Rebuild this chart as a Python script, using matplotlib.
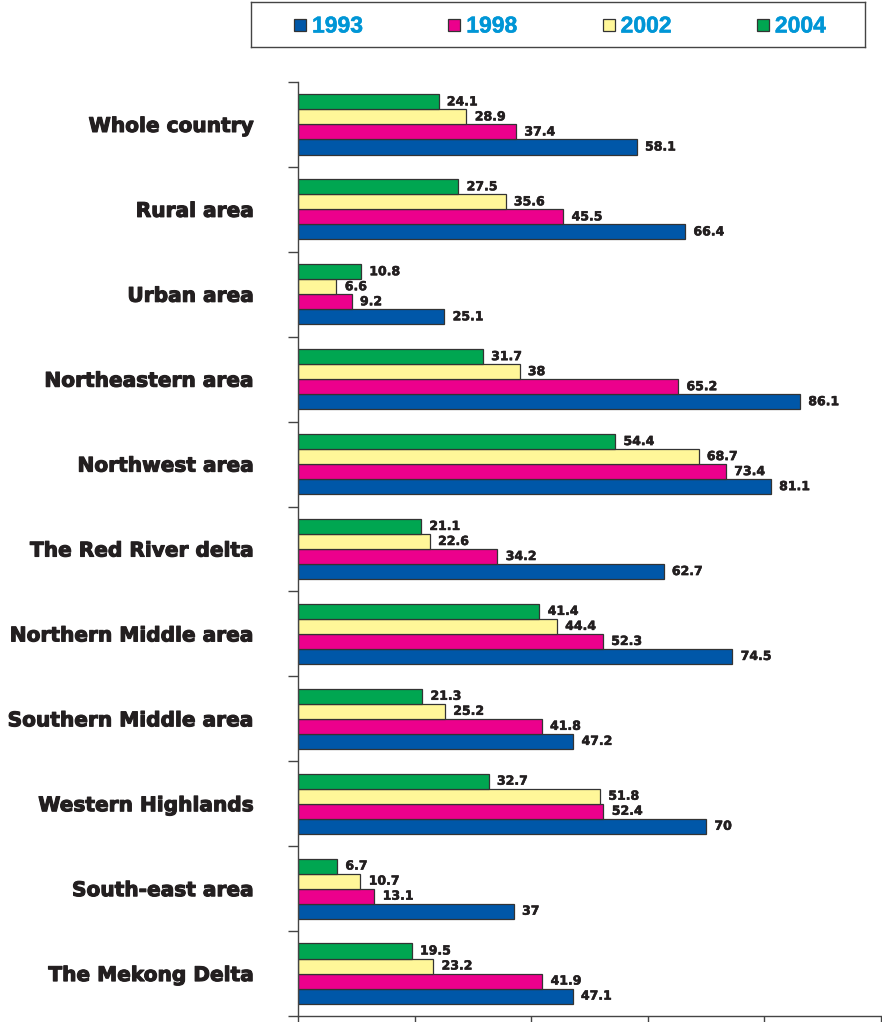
import matplotlib.pyplot as plt
import matplotlib.patheffects as pe
from matplotlib.patches import Rectangle
from matplotlib.ticker import MultipleLocator
import numpy as np

# Dados
regioes = ["Whole country", "Rural area", "Urban area", "Northeastern area",
           "Northwest area", "The Red River delta", "Northern Middle area",
           "Southern Middle area", "Western Highlands", "South-east area",
           "The Mekong Delta"]
anos = ["1993", "1998", "2002", "2004"]
v1993 = [58.1, 66.4, 25.1, 86.1, 81.1, 62.7, 74.5, 47.2, 70, 37, 47.1]
v1998 = [37.4, 45.5, 9.2, 65.2, 73.4, 34.2, 52.3, 41.8, 52.4, 13.1, 41.9]
v2002 = [28.9, 35.6, 6.6, 38, 68.7, 22.6, 44.4, 25.2, 51.8, 10.7, 23.2]
v2004 = [24.1, 27.5, 10.8, 31.7, 54.4, 21.1, 41.4, 21.3, 32.7, 6.7, 19.5]
series = [v1993, v1998, v2002, v2004]
cores = ["#0057a8", "#ec008c", "#fff799", "#00a651"]

# Figura e eixo principal
fig = plt.figure(figsize=(8.82, 10.22), dpi=100)
ax = fig.add_axes([298/882, 6/1022, 583/882, 934/1022])

y = np.arange(len(regioes))
h = 0.177
offsets = [1.5, 0.5, -0.5, -1.5]

for valores, cor, off in zip(series, cores, offsets):
    ax.barh(y + off*h, valores, height=h, color=cor, edgecolor="#333333", linewidth=0.9)
    for yi, v in zip(y, valores):
        ax.annotate(f"{v:g}", (v, yi + off*h), xytext=(6, 0), textcoords="offset points",
                    ha="left", va="center", fontsize=9, fontweight="bold",
                    color="#231f20", family="DejaVu Sans",
                    path_effects=[pe.withStroke(linewidth=0.4, foreground="#231f20")])

ax.set_xlim(0, 100)
ax.set_ylim(len(regioes) - 0.5, -0.5)

# Eixos e marcas de escala
ax.spines["top"].set_visible(False)
ax.spines["right"].set_visible(False)
for s in ["left", "bottom"]:
    ax.spines[s].set_color("#444444")
    ax.spines[s].set_linewidth(1.0)

ax.xaxis.set_major_locator(MultipleLocator(20))
ax.tick_params(axis="x", which="major", length=4.5, direction="out", labelbottom=False,
               color="#444444", width=1.0)

ax.set_yticks(y)
ax.set_yticklabels(regioes, fontsize=14.5, fontweight="bold", color="#231f20",
                   family="DejaVu Sans")
for lbl in ax.get_yticklabels():
    lbl.set_path_effects([pe.withStroke(linewidth=0.8, foreground="#231f20")])
ax.tick_params(axis="y", which="major", length=0, pad=31.5)
ax.set_yticks(np.arange(-0.5, len(regioes)), minor=True)
ax.tick_params(axis="y", which="minor", length=7, direction="out", color="#444444", width=1.0)

# Legenda (caixa no topo)
lax = fig.add_axes([251/882, 1 - 47/1022, 614/882, 45/1022])
lax.set_xlim(0, 614)
lax.set_ylim(45, 0)
lax.set_xticks([])
lax.set_yticks([])
for s in lax.spines.values():
    s.set_color("#444444")
    s.set_linewidth(1.0)
for i, (ano, cor) in enumerate(zip(anos, cores)):
    x0 = 43 + i*154.3
    lax.add_patch(Rectangle((x0, 17), 12, 12, facecolor=cor, edgecolor="#333333", linewidth=0.9))
    lax.text(x0 + 18, 24, ano, ha="left", va="center", fontsize=16.5, fontweight="bold",
             color="#0096d6", family="Liberation Sans",
             path_effects=[pe.withStroke(linewidth=0.35, foreground="#0096d6")])

plt.savefig("out.png", dpi=100)
plt.close()
